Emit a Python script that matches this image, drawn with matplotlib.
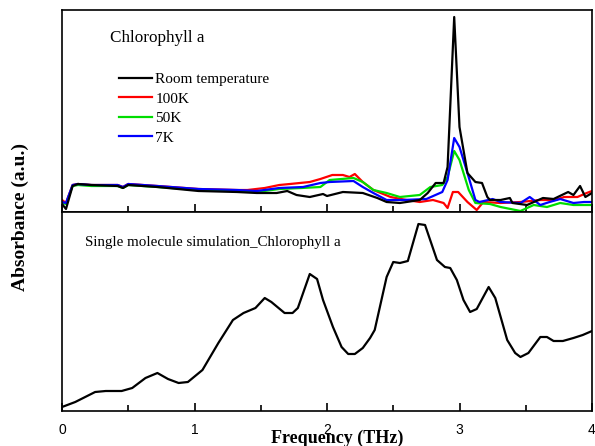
import numpy as np
import matplotlib
matplotlib.use("Agg")
import matplotlib.pyplot as plt
from matplotlib.ticker import MultipleLocator

# ---- Data (arbitrary absorbance units) ----
# Upper panel: measured spectra
rt_freq = [0.00, 0.03, 0.08, 0.12, 0.22, 0.42, 0.46, 0.50, 0.72, 1.03, 1.32, 1.47, 1.62, 1.70, 1.77,
           1.87, 1.97, 2.00, 2.12, 2.27, 2.38, 2.45, 2.55, 2.70, 2.76, 2.82, 2.88, 2.91, 2.96, 3.00,
           3.06, 3.12, 3.17, 3.21, 3.23, 3.31, 3.38, 3.40, 3.51, 3.63, 3.71, 3.82, 3.86, 3.91, 3.95, 4.00]
rt_abs = [8, 3, 26, 28, 27, 26, 24, 27, 25, 21, 20, 19, 19, 21, 17,
          15, 18, 16, 20, 19, 14, 10, 9, 12, 19, 29, 29, 45, 195, 85,
          39, 30, 29, 15, 12, 12, 14, 9, 7, 14, 13, 20, 17, 26, 15, 19]

k100_freq = [0.00, 0.03, 0.08, 0.12, 0.22, 0.42, 0.46, 0.50, 0.72, 1.03, 1.32, 1.40, 1.53, 1.64, 1.72,
             1.87, 1.95, 2.04, 2.12, 2.17, 2.21, 2.27, 2.35, 2.48, 2.60, 2.70, 2.80, 2.88, 2.91, 2.95,
             2.99, 3.06, 3.13, 3.18, 3.31, 3.46, 3.61, 3.72, 3.79, 3.89, 3.96, 4.00]
k100_abs = [12, 9, 27, 28, 27, 27, 25, 28, 26, 23, 22, 22, 24, 27, 28,
            30, 33, 37, 37, 35, 38, 30, 22, 15, 12, 10, 12, 9, 4, 20,
            20, 10, 2, 10, 9, 10, 12, 12, 15, 15, 19, 21]

k50_freq = [0.00, 0.03, 0.08, 0.12, 0.22, 0.42, 0.46, 0.50, 0.72, 1.03, 1.32, 1.47, 1.64, 1.81, 1.95,
            2.02, 2.20, 2.27, 2.35, 2.45, 2.55, 2.70, 2.78, 2.87, 2.91, 2.96, 3.00, 3.07, 3.12, 3.23,
            3.31, 3.46, 3.56, 3.66, 3.76, 3.86, 3.96, 4.00]
k50_abs = [9, 8, 26, 27, 26, 26, 24, 27, 25, 22, 21, 20, 23, 24, 25,
           32, 34, 30, 22, 19, 15, 17, 25, 27, 35, 61, 52, 22, 9, 8,
           5, 1, 7, 5, 9, 7, 7, 7]

k7_freq = [0.00, 0.03, 0.08, 0.12, 0.22, 0.42, 0.46, 0.50, 0.72, 1.03, 1.32, 1.47, 1.64, 1.82, 1.95,
           2.02, 2.20, 2.27, 2.35, 2.45, 2.57, 2.75, 2.87, 2.91, 2.96, 3.00, 3.06, 3.12, 3.15, 3.25,
           3.31, 3.46, 3.53, 3.61, 3.68, 3.76, 3.86, 3.94, 4.00]
k7_abs = [10, 9, 27, 28, 27, 27, 25, 28, 26, 23, 22, 21, 24, 25, 29,
          30, 31, 25, 19, 12, 12, 13, 20, 32, 74, 65, 39, 12, 10, 13,
          10, 9, 15, 7, 10, 13, 9, 10, 10]

# Lower panel: single molecule simulation
sim_freq = [0.00, 0.10, 0.25, 0.33, 0.45, 0.53, 0.63, 0.72, 0.80, 0.88, 0.95, 1.06, 1.18, 1.29, 1.37,
            1.46, 1.53, 1.58, 1.68, 1.74, 1.78, 1.87, 1.925, 1.97, 2.045, 2.11, 2.16, 2.21, 2.27, 2.325,
            2.36, 2.45, 2.50, 2.55, 2.61, 2.69, 2.74, 2.83, 2.89, 2.93, 2.98, 3.03, 3.08, 3.13, 3.22,
            3.27, 3.36, 3.42, 3.46, 3.52, 3.61, 3.66, 3.71, 3.78, 3.86, 3.93, 4.00]
sim_abs = [4, 9, 19, 20, 20, 23, 33, 38, 32, 28, 29, 41, 68, 91, 98,
           103, 113, 109, 98, 98, 103, 137, 132, 111, 84, 64, 57, 57, 63, 73,
           81, 134, 149, 148, 150, 187, 186, 151, 144, 143, 131, 111, 99, 102, 124,
           113, 71, 58, 54, 58, 74, 74, 70, 70, 73, 76, 80]

# ---- Figure ----
W, H = 595, 446
fig = plt.figure(figsize=(W / 100, H / 100), dpi=100)
left, right = 62 / W, 592 / W
top_y, mid_y, bot_y = 10, 212, 411
ax1 = fig.add_axes([left, 1 - mid_y / H, right - left, (mid_y - top_y) / H])
ax2 = fig.add_axes([left, 1 - bot_y / H, right - left, (bot_y - mid_y) / H])

lw = 1.6
ax1.plot(rt_freq, rt_abs, color="black", lw=lw, label="Room temperature", zorder=3)
ax1.plot(k100_freq, k100_abs, color="#ff0000", lw=lw, label="100K", zorder=2)
ax1.plot(k50_freq, k50_abs, color="#00dd00", lw=lw, label="50K", zorder=2)
ax1.plot(k7_freq, k7_abs, color="#0000ff", lw=lw, label="7K", zorder=2.5)
ax2.plot(sim_freq, sim_abs, color="black", lw=lw)

ax1.set_ylim(0, 202)
ax2.set_ylim(0, 199)
for ax in (ax1, ax2):
    ax.set_xlim(0, 4)
    ax.set_yticks([])
    ax.xaxis.set_major_locator(MultipleLocator(1))
    ax.xaxis.set_minor_locator(MultipleLocator(0.5))
    ax.tick_params(axis="x", which="major", direction="in", length=6, width=1.2, top=False)
    ax.tick_params(axis="x", which="minor", direction="in", length=4, width=1.2, top=False)
    for s in ax.spines.values():
        s.set_linewidth(1.2)

ax1.tick_params(axis="x", which="both", labelbottom=False)
ax2.tick_params(axis="x", which="major", labelsize=10, pad=9)
for lab in ax2.get_xticklabels():
    lab.set_fontfamily("Liberation Sans")

serif = "Liberation Serif"
ax1.text(0.09, 0.86, "Chlorophyll a", transform=ax1.transAxes, fontsize=12.3,
         family=serif, va="center", ha="left")
leg = ax1.legend(loc="upper left", bbox_to_anchor=(0.107, 0.69), frameon=False,
                 prop={"family": serif, "size": 11}, handlelength=2.2,
                 handletextpad=0.2, labelspacing=0.38, borderaxespad=0, borderpad=0)
ax2.text(0.044, 0.849, "Single molecule simulation_Chlorophyll a", transform=ax2.transAxes,
         fontsize=10.85, family=serif, va="center", ha="left")

fig.text(337 / W, 1 - 438 / H, "Frequency (THz)", ha="center", va="center",
         fontsize=13, fontweight="bold", family=serif)
fig.text(20 / W, 1 - 217 / H, "Absorbance (a.u.)", ha="center", va="center",
         rotation=90, fontsize=14, fontweight="bold", family=serif)

fig.savefig("out.png", dpi=100)
